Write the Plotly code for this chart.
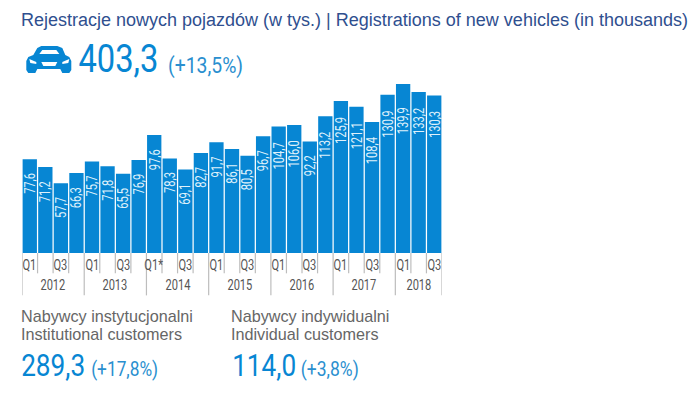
import json
import plotly.graph_objects as go

values = [77.6, 71.2, 57.7, 66.3, 75.7, 71.8, 65.5, 76.9, 97.6, 78.3, 69.1, 82.7, 91.7, 86.1,
          80.5, 96.7, 104.7, 106.0, 92.2, 113.2, 125.9, 121.1, 108.4, 130.9, 139.9, 133.2, 130.3]
quarter_labels = ["Q1", "", "Q3", ""] * 2 + ["Q1*", "", "Q3", ""] + ["Q1", "", "Q3", ""] * 3 + ["Q1", "", "Q3"]
years = ["2012", "2013", "2014", "2015", "2016", "2017", "2018"]
title = "Rejestracje nowych pojazdów (w tys.) | Registrations of new vehicles (in thousands)"
headline = ("403,3", "(+13,5%)")
inst = ("Nabywcy instytucjonalni", "Institutional customers", "289,3", "(+17,8%)")
indiv = ("Nabywcy indywidualni", "Individual customers", "114,0", "(+3,8%)")

W, H = 697, 394
L, R, T, B = 21.7, 441.7, 80.0, 252.7
Y_MAX = (B - T) / 1.206
BLUE = "#0786d3"
NARROW = "Roboto"
SANS = "Liberation Sans"
GREY = "#bdbdbd"

def fx(x):
    return (x - L) / (R - L)
def fy(y):
    return (B - y) / (B - T)

fig = go.Figure(go.Bar(x=list(range(len(values))), y=values, marker=dict(color=BLUE, line_width=0),
                       width=0.92, hoverinfo="skip"))

ann = []
widths = {}
def text(x, y, s, size, color, font=SANS, width=None):
    if width:
        widths[s] = width
        ann.append(dict(xref="paper", yref="paper", x=fx(x + width / 2), y=fy(y), text=s, showarrow=False,
                        xanchor="center", yanchor="middle",
                        font=dict(size=size, color=color, family=font)))
    else:
        ann.append(dict(xref="paper", yref="paper", x=fx(x), y=fy(y), text=s, showarrow=False,
                        xanchor="left", yanchor="middle", font=dict(size=size, color=color, family=font)))

for i, v in enumerate(values):
    ann.append(dict(xref="x", yref="y", x=i, y=v, yshift=-(16.5 if v == max(values) else 8.5),
                    text=f"{v:.1f}".replace(".", ","), showarrow=False, textangle=-90,
                    xanchor="center", yanchor="top",
                    font=dict(size=15, color="#dff1fb", family=NARROW)))

shapes = []
for i in range(len(values) + 1):
    long_tick = i % 4 == 0 or i == len(values)
    shapes.append(dict(type="line", xref="x", yref="paper", x0=i - 0.5, x1=i - 0.5, y0=0,
                       y1=fy(295 if long_tick else 273), line=dict(color=GREY, width=1.2)))
for i, q in enumerate(quarter_labels):
    if q:
        ann.append(dict(xref="x", yref="paper", x=i, y=fy(265), text=q, showarrow=False,
                        xanchor="center", yanchor="middle", font=dict(size=15, color="#555555", family=NARROW)))
for j, yr in enumerate(years):
    last = min(j * 4 + 3, len(values) - 1)
    ann.append(dict(xref="x", yref="paper", x=(j * 4 + last) / 2, y=fy(285), text=yr, showarrow=False,
                    xanchor="center", yanchor="middle", font=dict(size=15, color="#555555", family=NARROW)))

text(18.5, 20, title, 18, "#2f4f8f")
text(78, 59.5, headline[0], 38, BLUE, NARROW, 80)
text(168, 66, headline[1], 22, "#2a8fcf", NARROW, 75)
text(18.5, 316, inst[0], 16.2, "#666666")
text(18.5, 334, inst[1], 16.2, "#666666")
text(21, 365, inst[2], 32, BLUE, NARROW, 64)
text(91, 368.5, inst[3], 21, "#2a8fcf", NARROW, 67)
text(229, 316, indiv[0], 16.2, "#666666")
text(229, 334, indiv[1], 16.2, "#666666")
text(232, 365, indiv[2], 32, BLUE, NARROW, 64)
text(301, 368.5, indiv[3], 21, "#2a8fcf", NARROW, 58)

def path(points, fill):
    d = "M " + " L ".join(f"{fx(x):.5f},{fy(y):.5f}" for x, y in points) + " Z"
    return dict(type="path", xref="paper", yref="paper", path=d, fillcolor=fill, line_width=0, layer="above")

# car icon
shapes += [
    path([(26, 61), (28, 57), (33, 55), (37, 48), (41, 46), (57, 46), (62, 48), (65, 55), (69, 57), (71, 61),
          (71, 70), (69, 73), (62, 73), (60, 69), (37, 69), (35, 73), (28, 73), (26, 70)], BLUE),
    path([(39, 54), (42, 50), (56, 50), (59, 54)], "white"),
    path([(29, 59), (36, 62), (36, 64), (30, 63)], "white"),
    path([(62, 62), (69, 59), (68, 63), (62, 64)], "white"),
    path([(41, 62), (57, 62), (55, 66), (43, 66)], "white"),
]

fig.update_layout(
    width=W, height=H, autosize=False, paper_bgcolor="white", plot_bgcolor="white", showlegend=False,
    margin=dict(l=L, r=W - R, t=T, b=H - B, pad=0),
    xaxis=dict(range=[-0.5, len(values) - 0.5], showgrid=False, zeroline=False, showticklabels=False, ticks="", fixedrange=True),
    yaxis=dict(range=[0, Y_MAX], showgrid=False, zeroline=False, showticklabels=False, ticks="", fixedrange=True),
    shapes=shapes, annotations=ann,
)
post = """
document.body.style.margin = '0';
var widths = %s;
document.querySelectorAll('.annotation-text').forEach(function (t) {
  if (t.style.fontFamily.indexOf('Roboto') < 0) return;
  var b = t.getBBox();
  var f = widths[t.textContent] ? widths[t.textContent] / b.width : 0.74;
  var cx = b.x + b.width / 2;
  t.setAttribute('transform', 'translate(' + cx + ',0) scale(' + f + ',1) translate(' + (-cx) + ',0)');
});
""" % json.dumps(widths)
fig.write_html("out.html", config=dict(displayModeBar=False), post_script=post)
